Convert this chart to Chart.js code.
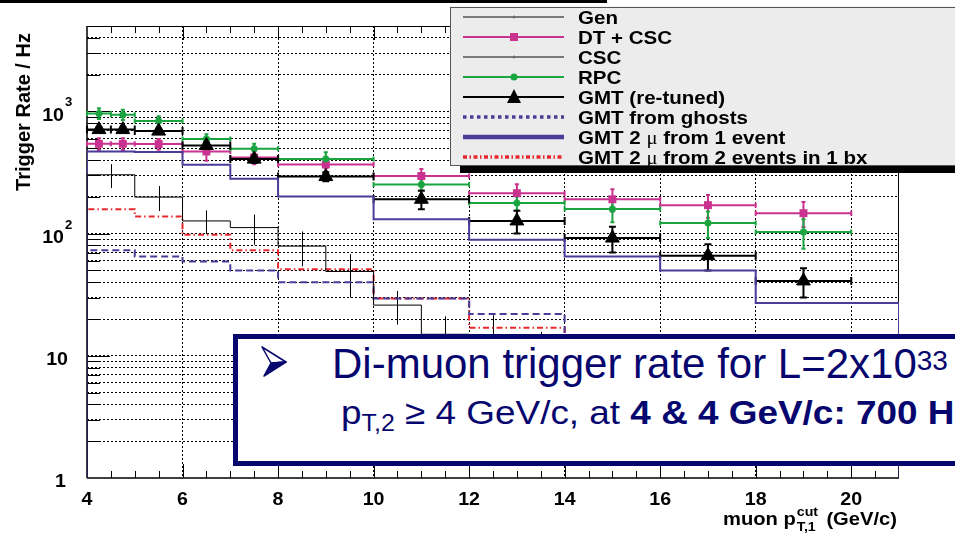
<!DOCTYPE html>
<html>
<head>
<meta charset="utf-8">
<script src="https://cdn.jsdelivr.net/npm/chart.js@4.4.0/dist/chart.umd.min.js"></script>
<style>
html,body{margin:0;padding:0;background:#fff;}
#wrap{position:relative;width:955px;height:536px;overflow:hidden;font-family:"Liberation Sans",Arial,sans-serif;}
#c{position:absolute;left:0;top:0;}
#topbar{position:absolute;left:0;top:0;width:607px;height:3px;background:#000;}
#note{position:absolute;left:233px;top:334px;width:760px;height:122px;border:5px solid #06066e;background:#fff;color:#06066e;white-space:nowrap;}
#note svg{position:absolute;left:0;top:0;}
#note .l1{position:absolute;left:94px;top:3.5px;font:42px/42px "Liberation Sans",Arial,sans-serif;}
#note .l2{position:absolute;left:103px;top:56.2px;font:34px/34px "Liberation Sans",Arial,sans-serif;transform:scaleX(1.085);transform-origin:0 0;}
#note .sup{position:relative;top:-8px;font-size:28px;}
#note .sub{position:relative;top:7px;font-size:23px;}
</style>
</head>
<body>
<div id="wrap">
  <canvas id="c" width="955" height="536"></canvas>
  <div id="topbar"></div>
  <div id="note">
    <svg width="60" height="50"><polygon points="24,8 48,23 33,24" fill="#fff" stroke="#06066e" stroke-width="1.5" stroke-linejoin="round"/><polygon points="33,24 48,23 26,37" fill="#06066e" stroke="#06066e" stroke-width="1.5" stroke-linejoin="round"/></svg>
    <div class="l1">Di-muon trigger rate for L=2x10<span class="sup">33</span></div>
    <div class="l2">p<span class="sub">T,2</span> ≥ 4 GeV/c, at <b>4 &amp; 4 GeV/c: 700 Hz</b></div>
  </div>
</div>
<script>
// histogram bins (1 GeV/c wide), rates in Hz
const binEdges = [4,5,6,7,8,9,10,11,12,13,14,15,16,17,18,19,20,21];
const genRate  = [303,199,127,112,79,49,26,15,14,10,8,6,5,4,3.5,3,2.5];
const genErr   = [67,46,28,31,25,19,8,6,7.5,5.7,4,3,2.5,2,1.7,1.5,1.1];
const oneEventRate = [470,465,366,281,201,201,131,131,89,89,65,65,50,50,27,27,27];
const ghostRate    = [73,65,59,50,40,40,29.5,29.5,22,22,12,12,8,8,5,5,5];
const twoEventRate = [158,138,98,73,51,51,29.5,29.5,17,17,10,10,6,6,4,4,4];

// points with bin widths
const binCentres    = [4.25,4.75,5.5,6.5,7.5,9,11,13,15,17,19];
const binHalfWidths = [0.25,0.25,0.5,0.5,0.5,1,1,1,1,1,1];
const dtCscRate = [543,543,541,470,420,368,296,214,191,171,147];
const dtCscErr  = [60,60,55,75,50,25,42,40,40,36,34];
const rpcRate   = [963,940,834,594,495,407,252,178,159,122,103];
const rpcErr    = [96,90,80,57,48,57,25,23,35,30,28];
const gmtRate   = [710,710,690,526,407,293,191,127,92,66,41];
const gmtErr    = [30,30,30,30,28,25,33,27,22,16,11];

const xTickValues = [4,6,8,10,12,14,16,18,20];
const xTickLabels = ['4','6','8','10','12','14','16','18','20'];
const yTickValues = [1,10,100,1000];
const yTickLabels = [['1',''],['10',''],['10','2'],['10','3']];
const legendLabels = ['Gen','DT + CSC','CSC','RPC','GMT (re-tuned)','GMT from ghosts','GMT 2 μ from 1 event','GMT 2 μ from 2 events in 1 bx'];

const MAGENTA='#c9338f', GREEN='#1aa540', INDIGO='#4a3c98', RED='#e8282f';
const Y_MIN=1, Y_MAX=5000;
const SX=1.09; // text in the original is a little wider than it is tall

const xGrid = xTickValues.filter(v=>v>4);
const yGrid = [];
[1,10,100,1000].forEach(d=>{ for(let m=1;m<=9;m++){ const v=m*d; if(v>1 && v<Y_MAX) yGrid.push(v); } });
const xMinor = []; for(let v=4.5; v<21; v+=0.5) xMinor.push(v);

function histPoints(vals){
  const pts=[{x:binEdges[0],y:Y_MIN}];
  vals.forEach((v,i)=>pts.push({x:binEdges[i],y:v}));
  pts.push({x:binEdges[binEdges.length-1],y:Y_MIN});
  return pts;
}
const pts = (rate) => binCentres.map((x,i)=>({x,y:rate[i]}));

function seg(ctx,x0,y0,x1,y1){ ctx.moveTo(x0,y0); ctx.lineTo(x1,y1); }

// draws text stretched horizontally, returns its drawn width
function text(ctx,str,x,y,align,font,sx){
  ctx.save(); ctx.font=font; ctx.textAlign=align; ctx.translate(x,y); ctx.scale(sx,1); ctx.fillText(str,0,0);
  const w=ctx.measureText(str).width*sx; ctx.restore(); return w;
}

function drawBars(ctx,xs,ys,rate,err,color,width,cap,vcap){
  ctx.strokeStyle=color; ctx.lineWidth=width; ctx.beginPath();
  binCentres.forEach((c,i)=>{
    const x0=xs.getPixelForValue(c-binHalfWidths[i]), x1=xs.getPixelForValue(c+binHalfWidths[i]);
    const xc=xs.getPixelForValue(c), yc=ys.getPixelForValue(rate[i]);
    const yt=ys.getPixelForValue(rate[i]+err[i]), yb=ys.getPixelForValue(rate[i]-err[i]);
    seg(ctx,x0,yc,x1,yc);
    seg(ctx,x0,yc-cap,x0,yc+cap); seg(ctx,x1,yc-cap,x1,yc+cap);
    seg(ctx,xc,yt,xc,yb);
    seg(ctx,xc-vcap,yt,xc+vcap,yt); seg(ctx,xc-vcap,yb,xc+vcap,yb);
  });
  ctx.stroke();
}

const frameAndBars = {
  id:'frameAndBars',
  beforeDatasetsDraw(chart){
    const {ctx, chartArea:a, scales:{x,y}} = chart;
    ctx.save();
    ctx.strokeStyle='#000'; ctx.lineWidth=1; ctx.beginPath();
    xMinor.forEach(v=>{ const p=Math.round(x.getPixelForValue(v))+0.5; const L=xTickValues.includes(v)?14:7;
      seg(ctx,p,a.bottom,p,a.bottom-L); seg(ctx,p,a.top,p,a.top+L); });
    yGrid.forEach(v=>{ const p=Math.round(y.getPixelForValue(v))+0.5; const L=yTickValues.includes(v)?23:13;
      seg(ctx,a.left,p,a.left+L,p); });
    seg(ctx,a.left,a.top+0.5,a.right,a.top+0.5);
    seg(ctx,a.right-0.5,a.top,a.right-0.5,a.bottom);
    ctx.stroke();
    ctx.lineWidth=1.5; ctx.beginPath();
    seg(ctx,a.left,a.top,a.left,a.bottom); seg(ctx,a.left,a.bottom,a.right,a.bottom);
    ctx.stroke();
    // Gen error bars
    ctx.strokeStyle='#000'; ctx.lineWidth=1; ctx.beginPath();
    genRate.forEach((v,i)=>{ const xc=Math.round(x.getPixelForValue((binEdges[i]+binEdges[i+1])/2))+0.5;
      seg(ctx,xc,y.getPixelForValue(v+genErr[i]),xc,y.getPixelForValue(v-genErr[i])); });
    ctx.stroke();
    drawBars(ctx,x,y,dtCscRate,dtCscErr,MAGENTA,2,2.5,2);
    drawBars(ctx,x,y,rpcRate,rpcErr,GREEN,2,2.5,2);
    drawBars(ctx,x,y,gmtRate,gmtErr,'#000',2,4,3.5);
    ctx.restore();
  }
};

function drawMarker(ctx,kind,x,y,color){
  ctx.fillStyle=color; ctx.beginPath();
  if(kind==='rect') ctx.rect(x-4,y-4,8,8);
  else if(kind==='circle') ctx.arc(x,y,3.5,0,Math.PI*2);
  else if(kind==='triangle'){ ctx.moveTo(x,y-8); ctx.lineTo(x+7,y+6); ctx.lineTo(x-7,y+6); ctx.closePath(); }
  ctx.fill();
}

function drawRich(ctx,str,x,y){
  const parts=str.split('μ');
  parts.forEach((p,i)=>{
    x+=text(ctx,p,x,y,'left','bold 18.5px "Liberation Sans"',1.11);
    if(i<parts.length-1) x+=text(ctx,'μ',x,y,'left','18.5px "Liberation Serif"',1.11);
  });
}

const legendStyles = [
  {color:'#555',width:1.5,tick:true},
  {color:MAGENTA,width:2,marker:'rect'},
  {color:'#555',width:1.5,tick:true},
  {color:GREEN,width:2,marker:'circle'},
  {color:'#000',width:2,marker:'triangle'},
  {color:INDIGO,width:3.5,dash:[3.5,3.5]},
  {color:INDIGO,width:4.5},
  {color:RED,width:3.5,dash:[4,2.5,1.5,2.5]}
];

const labelsAndLegend = {
  id:'labelsAndLegend',
  afterDraw(chart){
    const {ctx, chartArea:a, scales:{x,y}} = chart;
    ctx.save();
    ctx.fillStyle='#000'; ctx.textBaseline='alphabetic';
    const F18='bold 18px "Liberation Sans"';
    // x tick labels
    xTickValues.forEach((v,i)=>text(ctx,xTickLabels[i],x.getPixelForValue(v),505,'center',F18,SX));
    // y tick labels
    yTickValues.forEach((v,i)=>{
      const p=y.getPixelForValue(v), [base,sup]=yTickLabels[i];
      if(!sup) text(ctx,base,base==='1'?66:68,p+9.3,'right',F18,SX);
      else { text(ctx,base,64,p+9.8,'right',F18,SX); text(ctx,sup,65,p-5,'left','bold 12px "Liberation Sans"',SX); }
    });
    // axis titles
    ctx.save(); ctx.translate(29.5,112); ctx.rotate(-Math.PI/2);
    ctx.font='bold 20px "Liberation Sans"'; ctx.textAlign='center'; ctx.fillText('Trigger Rate / Hz',0,0);
    ctx.restore();
    const w=text(ctx,'muon p',723,525,'left','bold 18.5px "Liberation Sans"',SX);
    text(ctx,'cut',724+w,515.5,'left','bold 13px "Liberation Sans"',SX);
    text(ctx,'T,1',724+w,531,'left','bold 13px "Liberation Sans"',SX);
    text(ctx,'(GeV/c)',897,525,'right','bold 18.5px "Liberation Sans"',SX);
    // legend box
    ctx.fillStyle='#000'; ctx.fillRect(460,165,500,8);
    ctx.fillStyle='#ececec'; ctx.fillRect(450,6.5,510,159);
    ctx.strokeStyle='#555'; ctx.lineWidth=1; ctx.strokeRect(450.5,7.5,510,158);
    legendLabels.forEach((lab,i)=>{
      const cy=17+20*i, s=legendStyles[i];
      ctx.save(); ctx.strokeStyle=s.color; ctx.lineWidth=s.width; ctx.setLineDash(s.dash||[]);
      ctx.beginPath(); seg(ctx,463,cy,564,cy); ctx.stroke(); ctx.restore();
      if(s.tick){ ctx.strokeStyle=s.color; ctx.lineWidth=1; ctx.beginPath(); seg(ctx,514,cy-1.5,514,cy+1.5); ctx.stroke(); }
      if(s.marker) drawMarker(ctx,s.marker,514,cy,s.color);
      ctx.fillStyle='#000';
      drawRich(ctx,lab,578,cy+6.5);
    });
    ctx.restore();
  }
};

const lineSet = (label,vals,color,width,dash)=>({type:'line',label,data:histPoints(vals),stepped:true,
  borderColor:color,borderWidth:width,borderDash:dash||[],pointRadius:0,fill:false,tension:0});

new Chart(document.getElementById('c'),{
  type:'scatter',
  data:{datasets:[
    {label:'GMT (re-tuned)',data:pts(gmtRate),pointStyle:'triangle',pointRadius:8,backgroundColor:'#000',borderColor:'#000',borderWidth:1},
    {label:'RPC',data:pts(rpcRate),pointStyle:'circle',pointRadius:3.5,backgroundColor:GREEN,borderColor:GREEN,borderWidth:0},
    {label:'DT + CSC',data:pts(dtCscRate),pointStyle:'rect',pointRadius:5.6,backgroundColor:MAGENTA,borderColor:MAGENTA,borderWidth:0},
    lineSet('Gen',genRate,'#000',1),
    lineSet('GMT 2 μ from 1 event',oneEventRate,INDIGO,2),
    lineSet('GMT from ghosts',ghostRate,INDIGO,2,[7,4]),
    lineSet('GMT 2 μ from 2 events in 1 bx',twoEventRate,RED,2,[6,3,1.5,3])
  ]},
  options:{
    responsive:false, animation:false, events:[],
    layout:{padding:{left:87,right:56,top:26,bottom:58}},
    plugins:{legend:{display:false},tooltip:{enabled:false}},
    scales:{
      x:{type:'linear',min:4,max:21,afterBuildTicks:s=>{s.ticks=xGrid.map(v=>({value:v}));},
        ticks:{display:false},grid:{color:'#000',lineWidth:1,drawTicks:false},border:{display:false,dash:[2,2]}},
      y:{type:'logarithmic',min:Y_MIN,max:Y_MAX,afterBuildTicks:s=>{s.ticks=yGrid.map(v=>({value:v}));},
        ticks:{display:false},grid:{color:'#000',lineWidth:1,drawTicks:false},border:{display:false,dash:[2,2]}}
    }
  },
  plugins:[frameAndBars,labelsAndLegend]
});
</script>
</body>
</html>
